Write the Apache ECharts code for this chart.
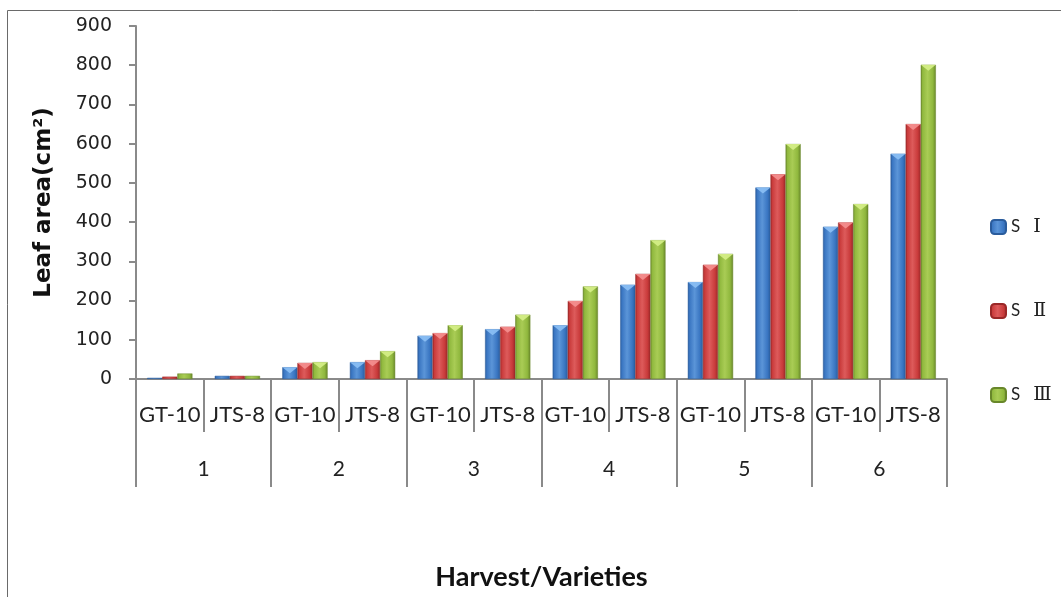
<!DOCTYPE html>
<html>
<head>
<meta charset="utf-8">
<script src="https://cdn.jsdelivr.net/npm/echarts@6/dist/echarts.min.js"></script>
<style>
html,body{margin:0;padding:0;background:#fff;}
#chart{width:1061px;height:597px;}
</style>
</head>
<body>
<div id="chart"></div>
<script>
const varieties = ['GT-10','JTS-8','GT-10','JTS-8','GT-10','JTS-8','GT-10','JTS-8','GT-10','JTS-8','GT-10','JTS-8'];
const harvests = ['1','2','3','4','5','6'];
const yTicks = [0,100,200,300,400,500,600,700,800,900];
const seriesNames = ['S Ⅰ','S Ⅱ','S Ⅲ'];
const s1 = [3, 8, 30, 43, 110, 127, 137, 240, 247, 488, 388, 574];
const s2 = [6, 8, 41, 48, 117, 133, 199, 268, 291, 522, 399, 650];
const s3 = [14, 8, 43, 71, 137, 164, 236, 354, 319, 599, 446, 801];

const palettes = [
  ['#5b95d8','#3a76c2','#2a5c9c','#8cc0f5'],
  ['#dd5b5b','#c93b3b','#9a2828','#f59090'],
  ['#a9cc55','#90b83e','#68872a','#d6ef88']
];
function grad(p){
  return new echarts.graphic.LinearGradient(0,0,1,0,[
    {offset:0,color:p[2]},{offset:0.12,color:p[1]},{offset:0.45,color:p[0]},
    {offset:0.8,color:p[1]},{offset:1,color:p[2]}
  ]);
}
const chart = echarts.init(document.getElementById('chart'));
const font = 'Lato, "Open Sans", sans-serif';
const data = [s1,s2,s3];
const barSeries = seriesNames.map(function(n,i){return {
  name:n,type:'bar',xAxisIndex:0,data:data[i],barGap:'0%',barCategoryGap:'33%',
  itemStyle:{color:grad(palettes[i]),borderColor:palettes[i][2],borderWidth:0.5}
};});
const topSeries = seriesNames.map(function(n,i){return {
  name:n+' top',type:'pictorialBar',xAxisIndex:0,barGap:'0%',barCategoryGap:'33%',
  symbol:'path://M0,0 L10,0 L5,5 Z',symbolPosition:'end',z:5,silent:true,
  data:data[i].map(function(v){return {value:v,symbolSize:v<15?[0,0]:['100%',6]};}),
  itemStyle:{color:palettes[i][3],opacity:0.9}
};});
chart.setOption({
  backgroundColor:'#fff',
  animation:false,
  graphic:[{type:'rect',shape:{x:7.5,y:10.5,width:1070,height:600},style:{fill:'none',stroke:'#6a6a6a',lineWidth:1},silent:true}],
  grid:{left:136,right:114,top:26,bottom:218},
  legend:{
    orient:'vertical',left:985,top:212,itemWidth:15,itemHeight:14,itemGap:64,
    data:seriesNames,
    textStyle:{fontSize:17,color:'#222',fontFamily:font,lineHeight:20,
      rich:{s:{fontSize:17,fontFamily:font,color:'#222',lineHeight:20},
            n:{fontSize:19,fontFamily:'"DejaVu Serif", serif',color:'#222',lineHeight:20,padding:[0,0,0,13]}}},
    formatter:function(n){const parts=n.split(' ');return '{s|'+parts[0]+'}{n|'+parts[1]+'}';}
  },
  xAxis:[
    {type:'category',data:varieties,position:'bottom',
     axisLine:{lineStyle:{color:'#8a8a8a',width:2}},
     axisTick:{show:true,interval:0,length:53,lineStyle:{color:'#8a8a8a',width:2}},
     axisLabel:{interval:0,margin:25,fontSize:22,color:'#222',fontFamily:font},
     splitLine:{show:false}},
    {type:'category',data:harvests,position:'bottom',
     axisLine:{show:false},
     axisTick:{show:true,interval:0,length:108,lineStyle:{color:'#8a8a8a',width:2}},
     axisLabel:{interval:0,margin:80,fontSize:21,color:'#222',fontFamily:font},
     name:'Harvest/Varieties',nameLocation:'middle',nameGap:185,
     nameTextStyle:{fontSize:27,fontWeight:'bold',color:'#111',fontFamily:font},
     splitLine:{show:false}}
  ],
  yAxis:{type:'value',min:0,max:900,interval:100,
    name:'Leaf area(cm²)',nameLocation:'middle',nameGap:80,
    nameTextStyle:{fontSize:23,fontWeight:'bold',color:'#111',fontFamily:'"DejaVu Sans", sans-serif'},
    axisLine:{show:true,lineStyle:{color:'#8a8a8a',width:2}},
    axisTick:{show:true,length:7,lineStyle:{color:'#8a8a8a',width:2}},
    axisLabel:{margin:24,fontSize:19,color:'#222',fontFamily:'"DejaVu Sans", sans-serif',
      formatter:function(v){return yTicks.indexOf(v)>=0?String(v):'';}},
    splitLine:{show:false}},
  series:barSeries.concat(topSeries)
});
</script>
</body>
</html>
